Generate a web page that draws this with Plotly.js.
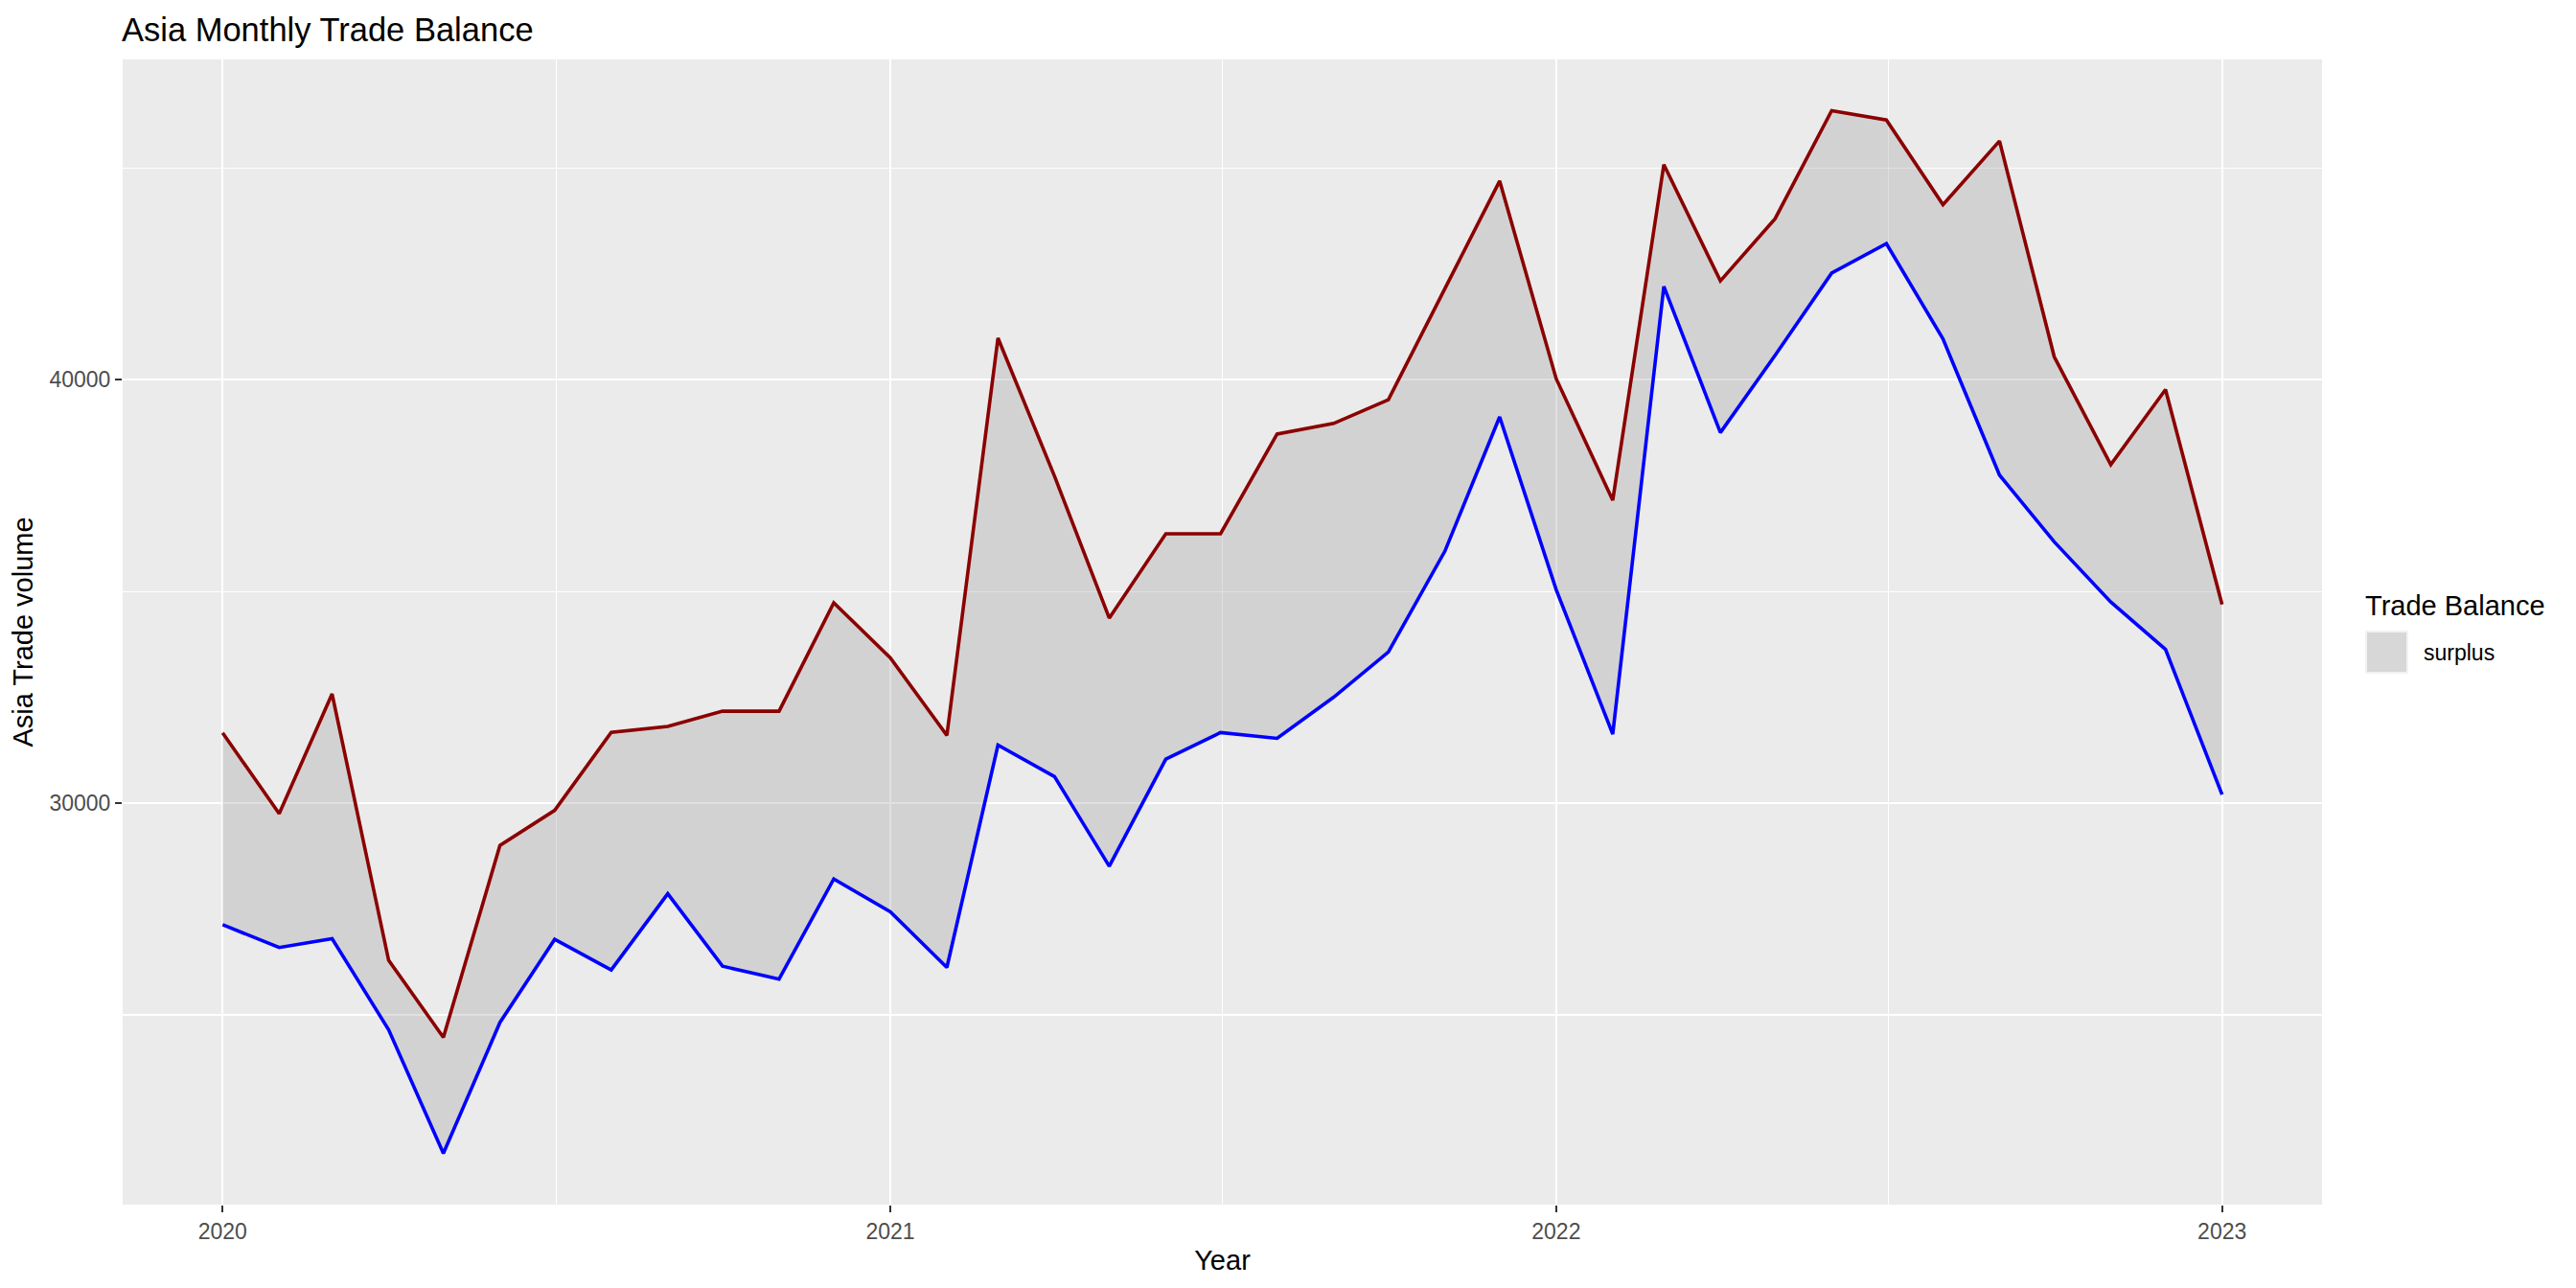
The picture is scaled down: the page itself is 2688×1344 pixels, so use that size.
<!DOCTYPE html>
<html>
<head>
<meta charset="utf-8">
<script src="https://cdn.plot.ly/plotly-3.0.1.min.js"></script>
<style>html,body{margin:0;padding:0;background:#fff;}#chart{width:2688px;height:1344px;}</style>
</head>
<body>
<div id="chart"></div>
<script>
// Monthly dates
const months = ['2020-01-01','2020-02-01','2020-03-01','2020-04-01','2020-05-01','2020-06-01','2020-07-01','2020-08-01','2020-09-01','2020-10-01','2020-11-01','2020-12-01',
  '2021-01-01','2021-02-01','2021-03-01','2021-04-01','2021-05-01','2021-06-01','2021-07-01','2021-08-01','2021-09-01','2021-10-01','2021-11-01','2021-12-01',
  '2022-01-01','2022-02-01','2022-03-01','2022-04-01','2022-05-01','2022-06-01','2022-07-01','2022-08-01','2022-09-01','2022-10-01','2022-11-01','2022-12-01',
  '2023-01-01'];
// Upper series (dark red)
const exportsAsia = [31660,29750,32580,26290,24470,29000,29830,31670,31810,32170,32170,34730,
  33430,31600,40980,37720,34370,36360,36360,38715,38965,39525,42150,44690,
  40020,37150,45075,42330,43800,46350,46130,44130,45635,40540,37990,39765,
  34690];
// Lower series (blue)
const importsAsia = [27130,26590,26800,24650,21730,24820,26783,26060,27860,26150,25845,28210,
  27435,26120,31370,30625,28510,31040,31667,31530,32500,33570,35950,39120,
  35040,31630,42200,38750,40575,42515,43210,40960,37745,36170,34750,33630,
  30200];
const yTickVals = [30000, 40000];
const yTickText = ['30000', '40000'];
const xTickVals = ['2020-01-01','2021-01-01','2022-01-01','2023-01-01'];
const xTickText = ['2020','2021','2022','2023'];
const legendTitle = 'Trade Balance';
const legendLabel = 'surplus';

const FONT = 'Liberation Sans, Arial, sans-serif';

const traces = [
  {x: months, y: importsAsia, type: 'scatter', mode: 'lines', line: {width: 0, color: 'rgba(0,0,0,0)'}, showlegend: false, hoverinfo: 'skip'},
  {x: months, y: exportsAsia, type: 'scatter', mode: 'lines', fill: 'tonexty', fillcolor: 'rgba(160,160,160,0.32)', line: {width: 0, color: 'rgba(0,0,0,0)'}, showlegend: false, hoverinfo: 'skip'},
  {x: months, y: exportsAsia, type: 'scatter', mode: 'lines', line: {color: '#8B0000', width: 3.6}, showlegend: false},
  {x: months, y: importsAsia, type: 'scatter', mode: 'lines', line: {color: '#0000FF', width: 3.6}, showlegend: false}
];

const layout = {
  width: 2688, height: 1344,
  margin: {l: 128, r: 265, t: 62, b: 87},
  paper_bgcolor: '#FFFFFF',
  plot_bgcolor: '#EBEBEB',
  font: {family: FONT, color: '#000000', size: 29},
  title: {text: 'Asia Monthly Trade Balance', xref: 'container', x: 127/2688, xanchor: 'left', yref: 'container', y: 1 - 31/1344, yanchor: 'middle', font: {family: FONT, size: 34.5, color: '#000000'}},
  showlegend: false,
  xaxis: {
    type: 'date',
    range: ['2019-11-07 04:48', '2023-02-24 19:12'],
    tickmode: 'array', tickvals: xTickVals, ticktext: xTickText,
    ticks: 'outside', ticklen: 7, tickwidth: 2, tickcolor: '#333333',
    tickfont: {family: FONT, size: 23, color: '#4D4D4D'},
    showgrid: true, gridcolor: '#FFFFFF', gridwidth: 2.2,
    minor: {tickmode: 'array', tickvals: ['2020-07-02','2021-07-02','2022-07-02'], showgrid: true, gridcolor: '#FFFFFF', gridwidth: 1.1, ticks: ''},
    zeroline: false, showline: false,
    title: {text: 'Year', font: {family: FONT, size: 29, color: '#000000'}, standoff: 8}
  },
  yaxis: {
    range: [20520, 47560],
    tickmode: 'array', tickvals: yTickVals, ticktext: yTickText,
    ticks: 'outside', ticklen: 7, tickwidth: 2, tickcolor: '#333333',
    tickfont: {family: FONT, size: 23, color: '#4D4D4D'},
    showgrid: true, gridcolor: '#FFFFFF', gridwidth: 2.2,
    minor: {tickmode: 'array', tickvals: [25000, 35000, 45000], showgrid: true, gridcolor: '#FFFFFF', gridwidth: 1.1, ticks: ''},
    zeroline: false, showline: false,
    title: {text: 'Asia Trade volume', font: {family: FONT, size: 29, color: '#000000'}, standoff: 8}
  },
  shapes: [
    {type: 'rect', xref: 'paper', yref: 'paper', x0: (2468-128)/2295, x1: (2513-128)/2295, y0: (1257-703)/1195, y1: (1257-658)/1195,
     fillcolor: '#F2F2F2', line: {width: 0}},
    {type: 'rect', xref: 'paper', yref: 'paper', x0: (2470-128)/2295, x1: (2511-128)/2295, y0: (1257-701)/1195, y1: (1257-660)/1195,
     fillcolor: 'rgba(160,160,160,0.32)', line: {width: 0}}
  ],
  annotations: [
    {text: legendTitle, xref: 'paper', yref: 'paper', x: (2466-128)/2295, y: (1257-632)/1195, xanchor: 'left', yanchor: 'middle', showarrow: false, font: {family: FONT, size: 29, color: '#000000'}},
    {text: legendLabel, xref: 'paper', yref: 'paper', x: (2527-128)/2295, y: (1257-681)/1195, xanchor: 'left', yanchor: 'middle', showarrow: false, font: {family: FONT, size: 23, color: '#000000'}}
  ]
};

Plotly.newPlot('chart', traces, layout, {staticPlot: true, displayModeBar: false});
</script>
</body>
</html>
